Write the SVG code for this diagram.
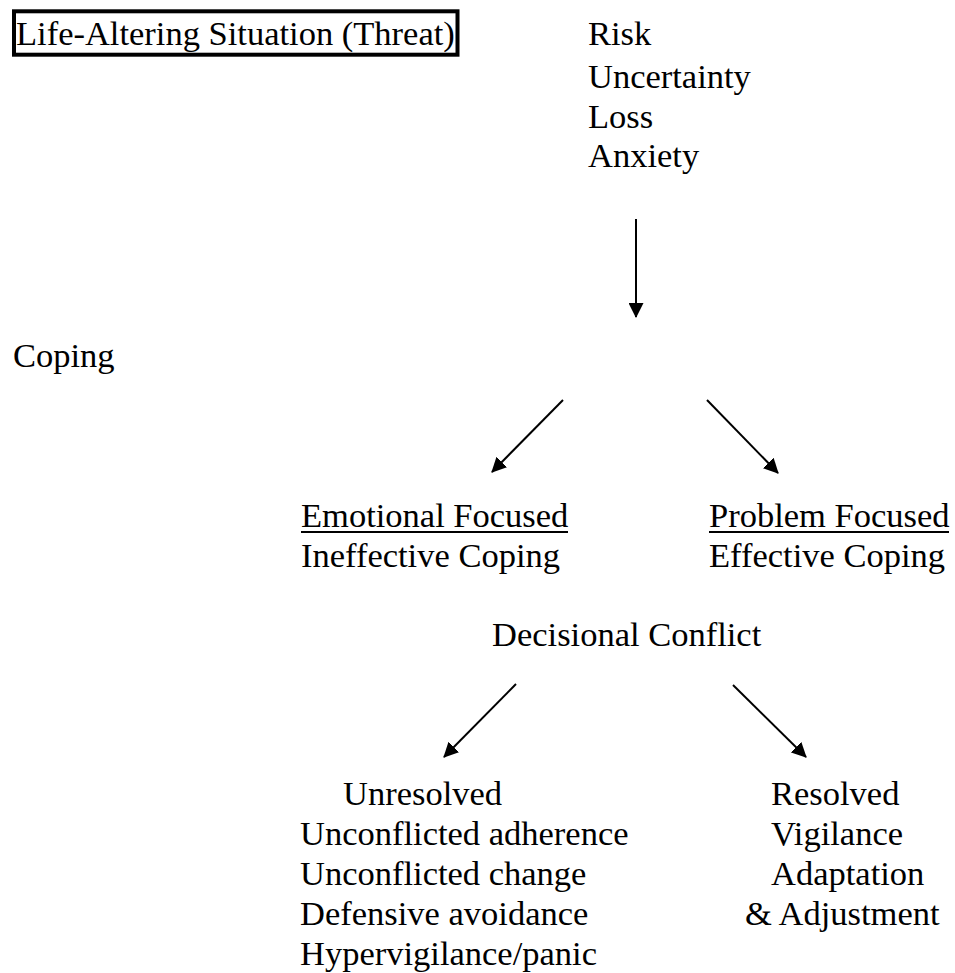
<svg xmlns="http://www.w3.org/2000/svg" width="955" height="973" viewBox="0 0 955 973">
<style>
text{font-family:"Liberation Serif","Times New Roman",serif;font-size:34.5px;fill:#000}
.ul{stroke:#000;stroke-width:2}
.conn{stroke:#000;stroke-width:2;fill:none}
</style>
<defs>
<marker id="ah" markerUnits="userSpaceOnUse" markerWidth="16" markerHeight="15" refX="14" refY="7.5" orient="auto">
<path d="M0,0 L15,7.5 L0,15 z" fill="#000"/>
</marker>
</defs>
<rect width="955" height="973" fill="#fff"/>
<g id="threat">
<rect x="14" y="11.3" width="443.5" height="43.4" fill="none" stroke="#000" stroke-width="4"/>
<text x="16" y="45">Life-Altering Situation (Threat)</text>
</g>
<g id="factors">
<text x="588" y="45">Risk</text>
<text x="588" y="88">Uncertainty</text>
<text x="588" y="128">Loss</text>
<text x="588" y="167">Anxiety</text>
</g>
<g id="coping">
<text x="13" y="367">Coping</text>
</g>
<g id="emotional">
<text x="301" y="527">Emotional Focused</text>
<line class="ul" x1="301" y1="532" x2="568" y2="532"/>
<text x="301" y="567">Ineffective Coping</text>
</g>
<g id="problem">
<text x="709" y="527">Problem Focused</text>
<line class="ul" x1="709" y1="532" x2="949" y2="532"/>
<text x="709" y="567">Effective Coping</text>
</g>
<g id="decisional">
<text x="492" y="646">Decisional Conflict</text>
</g>
<g id="unresolved">
<text x="343" y="805">Unresolved</text>
<text x="300" y="845">Unconflicted adherence</text>
<text x="300" y="885">Unconflicted change</text>
<text x="300" y="925">Defensive avoidance</text>
<text x="300" y="965">Hypervigilance/panic</text>
</g>
<g id="resolved">
<text x="771" y="805">Resolved</text>
<text x="771" y="845">Vigilance</text>
<text x="771" y="885">Adaptation</text>
<text x="745" y="925">&amp; Adjustment</text>
</g>
<g id="connectors">
<line class="conn" x1="636" y1="219" x2="636" y2="317" marker-end="url(#ah)"/>
<line class="conn" x1="563" y1="400" x2="492" y2="472" marker-end="url(#ah)"/>
<line class="conn" x1="707" y1="400" x2="778" y2="473" marker-end="url(#ah)"/>
<line class="conn" x1="516" y1="684" x2="444" y2="757" marker-end="url(#ah)"/>
<line class="conn" x1="733" y1="685" x2="806" y2="757" marker-end="url(#ah)"/>
</g>
</svg>
